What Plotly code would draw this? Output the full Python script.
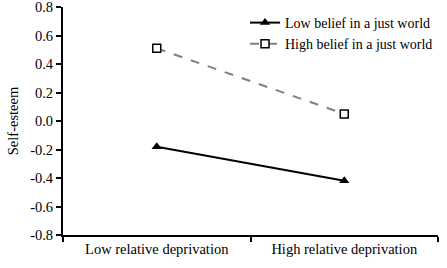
import plotly.graph_objects as go

categories = ["Low relative deprivation", "High relative deprivation"]
low_bjw = [-0.18, -0.42]
high_bjw = [0.51, 0.05]
y_ticks = [0.8, 0.6, 0.4, 0.2, 0.0, -0.2, -0.4, -0.6, -0.8]

fig = go.Figure()
fig.add_trace(go.Scatter(
    x=categories, y=low_bjw, name="Low belief in a just world",
    mode="lines+markers",
    line=dict(color="black", width=2),
    marker=dict(symbol="triangle-up", size=9, color="black"),
))
fig.add_trace(go.Scatter(
    x=categories, y=high_bjw, name="High belief in a just world",
    mode="lines+markers",
    line=dict(color="#808080", width=2, dash="dash"),
    marker=dict(symbol="square", size=8, color="white", line=dict(color="black", width=1.5)),
))

fig.update_layout(
    width=447, height=268,
    margin=dict(l=63, r=9, t=7, b=33),
    paper_bgcolor="white", plot_bgcolor="white",
    font=dict(family="Liberation Serif", size=14.5, color="black"),
    showlegend=True,
    legend=dict(x=1.0, y=1.0, xanchor="right", yanchor="top",
                bgcolor="rgba(0,0,0,0)", font=dict(size=14),
                tracegroupgap=0),
)
fig.update_xaxes(
    type="category", range=[-0.5, 1.5], tickson="boundaries",
    showline=True, linecolor="black", linewidth=2,
    ticks="outside", ticklen=5, tickcolor="black", tickwidth=1.5,
    showgrid=False, zeroline=False, automargin=False,
)
fig.update_yaxes(
    range=[-0.8, 0.8], tickvals=y_ticks,
    ticktext=[f"{v:.1f}" for v in y_ticks],
    showline=True, linecolor="black", linewidth=2,
    ticks="outside", ticklen=5, tickcolor="black", tickwidth=1.5,
    showgrid=False, zeroline=False, automargin=False,
    ticklabeloverflow="allow",
    title=dict(text="Self-esteem", standoff=8, font=dict(size=14.5)),
)

fig.write_html("out.html", config={"displayModeBar": False},
               post_script="document.body.style.margin='0';")
